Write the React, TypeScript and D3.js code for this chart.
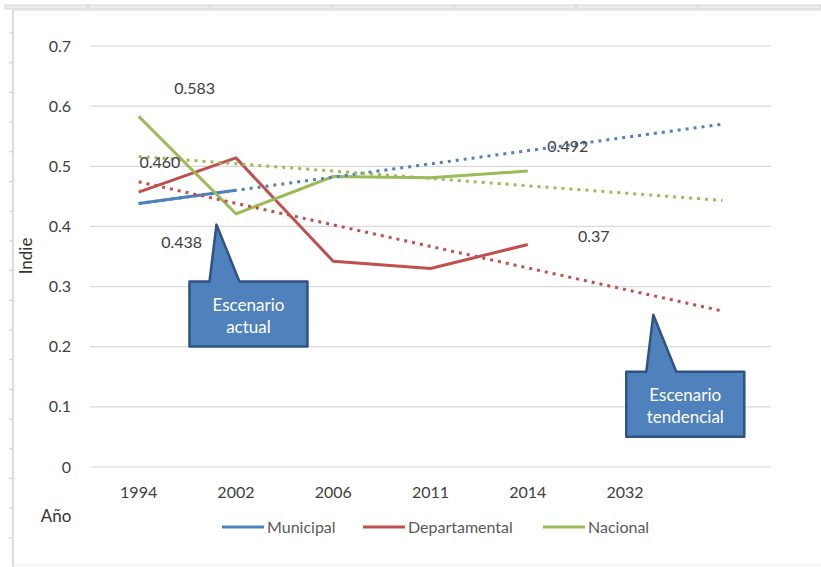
import React from "react";
import * as d3 from "d3";

const years = ["1994", "2002", "2006", "2011", "2014", "2032", ""];
const municipal = [0.438, 0.46];
const departamental = [0.457, 0.514, 0.342, 0.33, 0.37];
const nacional = [0.583, 0.421, 0.483, 0.481, 0.492];
const yTicks = [0, 0.1, 0.2, 0.3, 0.4, 0.5, 0.6, 0.7];

const seriesNames = ["Municipal", "Departamental", "Nacional"];
const seriesColors = ["#4F81BD", "#C0504D", "#9BBB59"];

// labels typed on the chart: [series, point index, text, dx, dy]
const pointLabels: [number, number, string, number, number][] = [
  [2, 0, "0.583", 56, -28],
  [0, 1, "0.460", -76, -28],
  [0, 0, "0.438", 43, 39],
  [2, 4, "0.492", 40, -25],
  [1, 4, "0.37", 66, -8],
];

// callouts: tip position in data units (category index, value)
const callouts = [
  { cat: 0.8, value: 0.403, lines: ["Escenario", "actual"] },
  { cat: 5.29, value: 0.253, lines: ["Escenario", "tendencial"] },
];

const W = 821;
const H = 567;
const font = "Lato, 'Open Sans', sans-serif";
const textColor = "#404040";

function trend(values: number[]) {
  const xs = values.map((_, i) => i);
  const mx = d3.mean(xs)!;
  const my = d3.mean(values)!;
  const num = d3.sum(xs, (x, i) => (x - mx) * (values[i] - my));
  const den = d3.sum(xs, (x) => (x - mx) * (x - mx));
  const slope = num / den;
  return (x: number) => my + slope * (x - mx);
}

export default function App() {
  const x = d3
    .scalePoint<number>()
    .domain(years.map((_, i) => i))
    .range([90, 771])
    .padding(0.5);
  const step = x.step();
  const cx = (i: number) => x(0)! + i * step;
  const y = d3.scaleLinear().domain([0, 0.7]).range([467, 46]);

  const data = [municipal, departamental, nacional];
  const line = d3
    .line<number>()
    .x((_, i) => cx(i))
    .y((d) => y(d));

  const lastIdx = years.length - 1;

  const rulerTicks = d3.range(33, 545, 29.7);
  const topTicks = d3.range(88, 821, 122);

  return (
    <div style={{ position: "absolute", left: 0, top: 0 }}>
      <svg width={W} height={H} style={{ display: "block", background: "#fff" }}>
        {/* frame */}
        <rect x={5} y={5} width={820} height={4} fill="#ececec" stroke="#d6d6d6" strokeWidth={1} />
        {topTicks.map((t) => (
          <line key={t} x1={t} x2={t} y1={5} y2={9} stroke="#cfcfcf" />
        ))}
        <line x1={13} x2={13} y1={9} y2={H} stroke="#dcdcdc" strokeWidth={2} />
        <line x1={13} x2={W} y1={10} y2={10} stroke="#e2e2e2" strokeWidth={1.5} />
        <line x1={13} x2={W} y1={565} y2={565} stroke="#ececec" strokeWidth={1} />
        {rulerTicks.map((t) => (
          <line key={t} x1={9} x2={13} y1={t} y2={t} stroke="#cfcfcf" />
        ))}

        {/* grid */}
        {yTicks.map((t) => (
          <g key={t}>
            <line x1={90} x2={771} y1={y(t)} y2={y(t)} stroke="#d9d9d9" strokeWidth={1.2} />
            <text
              x={71}
              y={y(t)}
              dy="0.35em"
              textAnchor="end"
              fontFamily={font}
              fontSize={16}
              fill={textColor}
            >
              {t === 0 ? "0" : t.toFixed(1)}
            </text>
          </g>
        ))}

        {/* x labels */}
        {years.map((yr, i) => (
          <text
            key={i}
            x={cx(i)}
            y={498}
            textAnchor="middle"
            fontFamily={font}
            fontSize={16}
            fill={textColor}
          >
            {yr}
          </text>
        ))}

        <text
          transform={`translate(32,256) rotate(-90)`}
          textAnchor="middle"
          fontFamily={font}
          fontSize={17}
          fill="#333"
        >
          Indie
        </text>
        <text x={56} y={522} textAnchor="middle" fontFamily={font} fontSize={17} fill="#333">
          Año
        </text>

        {/* series */}
        {data.map((vals, s) => (
          <path
            key={s}
            d={line(vals)!}
            fill="none"
            stroke={seriesColors[s]}
            strokeWidth={3}
            strokeLinejoin="round"
          />
        ))}

        {/* trendlines */}
        {data.map((vals, s) => {
          const f = trend(vals);
          return (
            <line
              key={s}
              x1={cx(0)}
              y1={y(f(0))}
              x2={cx(lastIdx)}
              y2={y(f(lastIdx))}
              stroke={seriesColors[s]}
              strokeWidth={3}
              strokeDasharray="3 5"
            />
          );
        })}

        {/* point labels */}
        {pointLabels.map(([s, i, txt, dx, dy]) => (
          <text
            key={txt}
            x={cx(i) + dx}
            y={y(data[s][i]) + dy}
            dy="0.35em"
            textAnchor="middle"
            fontFamily={font}
            fontSize={16}
            fill={textColor}
          >
            {txt}
          </text>
        ))}

        {/* callouts */}
        {callouts.map((c, k) => {
          const tx = cx(c.cat);
          const ty = y(c.value);
          const bx = tx - 27;
          const by = ty + 57;
          const bw = 118;
          const bh = 65;
          const p = d3.path();
          p.moveTo(bx, by);
          p.lineTo(tx - 7, by);
          p.lineTo(tx, ty);
          p.lineTo(tx + 23, by);
          p.lineTo(bx + bw, by);
          p.lineTo(bx + bw, by + bh);
          p.lineTo(bx, by + bh);
          p.closePath();
          return (
            <g key={k}>
              <path d={p.toString()} fill="#4F81BD" stroke="#2F5383" strokeWidth={2.5} strokeLinejoin="round" />
              {c.lines.map((l, j) => (
                <text
                  key={j}
                  x={bx + bw / 2}
                  y={by + 23 + j * 22}
                  dy="0.35em"
                  textAnchor="middle"
                  fontFamily={font}
                  fontSize={17}
                  fill="#fff"
                >
                  {l}
                </text>
              ))}
            </g>
          );
        })}

        {/* legend */}
        {seriesNames.map((n, s) => {
          const lx = [222, 363, 543][s];
          return (
            <g key={n}>
              <line x1={lx} x2={lx + 42} y1={527} y2={527} stroke={seriesColors[s]} strokeWidth={3} />
              <text
                x={lx + 45}
                y={527}
                dy="0.35em"
                fontFamily={font}
                fontSize={16}
                fill="#595959"
              >
                {n}
              </text>
            </g>
          );
        })}
      </svg>
    </div>
  );
}
